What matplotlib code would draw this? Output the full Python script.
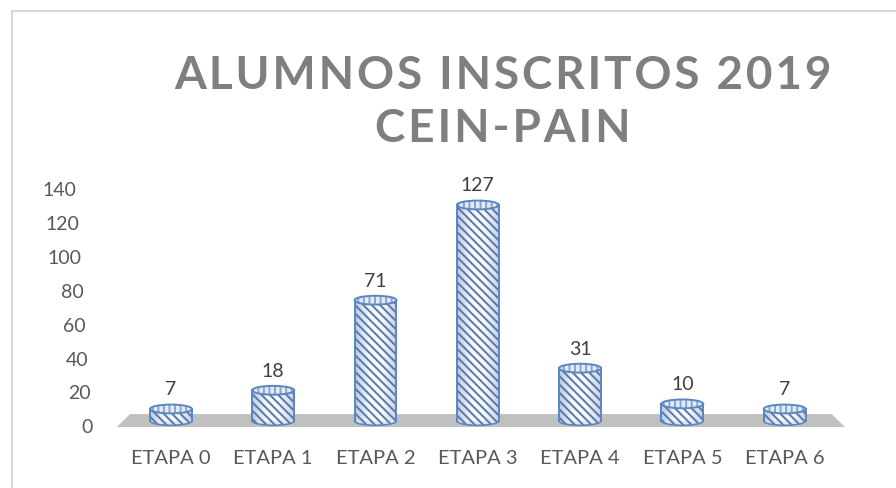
import numpy as np
import matplotlib.pyplot as plt
from matplotlib.patches import Rectangle, Ellipse, Polygon
from matplotlib.colors import LinearSegmentedColormap

# Data
categories = ['ETAPA 0', 'ETAPA 1', 'ETAPA 2', 'ETAPA 3', 'ETAPA 4', 'ETAPA 5', 'ETAPA 6']
alumnos = [7, 18, 71, 127, 31, 10, 7]
y_ticks = [0, 20, 40, 60, 80, 100, 120, 140]
title_lines = ['ALUMNOS INSCRITOS 2019', 'CEIN-PAIN']

plt.rcParams['font.family'] = ['Lato', 'DejaVu Sans']
plt.rcParams['hatch.linewidth'] = 1.4

fig = plt.figure(figsize=(8.96, 4.89), dpi=100)
W, H = 896, 489

# chart border (cut off at right / bottom like the original)
fig.add_artist(Rectangle((12 / W, -0.1), 1.2, (H - 12) / H + 0.1, transform=fig.transFigure,
                         fill=False, edgecolor='#d9d9d9', linewidth=1.5))

ax = fig.add_axes([114.7 / W, (H - 428) / H, (846 - 114.7) / W, (428 - 190) / H])
ax.axis('off')

# floor
floor = Polygon([(-0.53, 0), (6.59, 0), (6.46, 7.6), (-0.40, 7.6)], closed=True,
                facecolor='#c0c0c0', edgecolor='none', zorder=1)
ax.add_patch(floor)

base = 3.6      # cylinder bottom sits in the middle of the floor
bw = 0.41       # cylinder width
eh = 5.2        # ellipse height (data units)
hatch_c = '#5a77a6'
edge_c = '#5b86c2'
shade = LinearSegmentedColormap.from_list('shade', ['#b9cbe4', '#f6f9fd', '#f6f9fd', '#c3d3ea'])
grad = np.linspace(0, 1, 64).reshape(1, -1)
hatch = '\\\\\\\\'

for i, v in enumerate(alumnos):
    top = base + v
    # bottom ellipse
    ax.add_patch(Ellipse((i, base), bw, eh, facecolor='#dde7f3', edgecolor='none', zorder=2))
    ax.add_patch(Ellipse((i, base), bw, eh, facecolor='none', edgecolor=hatch_c,
                         hatch=hatch, linewidth=0, zorder=2))
    ax.add_patch(Ellipse((i, base), bw, eh, facecolor='none', edgecolor=edge_c,
                         linewidth=1.2, zorder=2.1))
    # body with shading
    body = Rectangle((i - bw / 2, base), bw, v, facecolor='none', edgecolor='none', zorder=3)
    ax.add_patch(body)
    im = ax.imshow(grad, cmap=shade, aspect='auto', extent=(i - bw / 2, i + bw / 2, base, top),
                   zorder=3)
    im.set_clip_path(body)
    ax.add_patch(Rectangle((i - bw / 2, base), bw, v, facecolor='none', edgecolor=hatch_c,
                           hatch=hatch, linewidth=0, zorder=3.1))
    ax.plot([i - bw / 2, i - bw / 2], [base, top], color=edge_c, lw=1.4, zorder=3.2)
    ax.plot([i + bw / 2, i + bw / 2], [base, top], color=edge_c, lw=1.4, zorder=3.2)
    # top ellipse
    ax.add_patch(Ellipse((i, top), bw, eh, facecolor='#e2eaf5', edgecolor='none', zorder=4))
    ax.add_patch(Ellipse((i, top), bw, eh, facecolor='none', edgecolor='#8aa3c6',
                         hatch='|||', linewidth=0, zorder=4.1))
    ax.add_patch(Ellipse((i, top), bw, eh, facecolor='none', edgecolor=edge_c,
                         linewidth=1.4, zorder=4.2))
    # value label
    ax.annotate(str(v), xy=(i, top), xytext=(0, 20), textcoords='offset pixels',
                ha='center', va='center', fontsize=14, color='#404040', annotation_clip=False)
    # category label
    ax.annotate(categories[i], xy=(i, 0), xytext=(0, -31), textcoords='offset pixels',
                ha='center', va='center', fontsize=14.5, color='#595959', annotation_clip=False)

ax.set_xlim(-0.55, 6.6)
ax.set_ylim(0, 140)

# y tick labels follow the slanted 3D wall
for t in y_ticks:
    dx = 22 + (t / 140) * 16
    ax.annotate(str(t), xy=(0, t), xycoords=('axes fraction', 'data'),
                xytext=(-dx, 0), textcoords='offset pixels', ha='right', va='center',
                fontsize=14, color='#595959', annotation_clip=False)

# title
fig.text(503 / W, 1 - 76 / H, '\u200a'.join(title_lines[0]), ha='center', va='center',
         fontsize=33, fontweight='bold', color='#7f7f7f')
fig.text(503 / W, 1 - 129 / H, '\u200a'.join(title_lines[1]), ha='center', va='center',
         fontsize=33, fontweight='bold', color='#7f7f7f')

fig.savefig('out.png', dpi=100)
